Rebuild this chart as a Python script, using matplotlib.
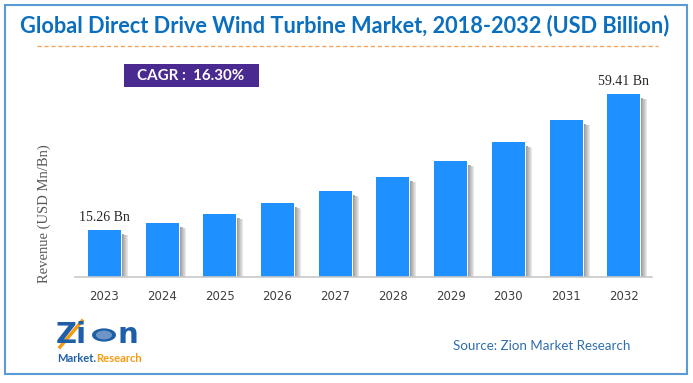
import matplotlib
matplotlib.use("Agg")
import matplotlib.pyplot as plt
from matplotlib.patches import Rectangle
from matplotlib.lines import Line2D

years = ["2023", "2024", "2025", "2026", "2027", "2028", "2029", "2030", "2031", "2032"]
revenue = [15.26, 17.6, 20.5, 24.0, 27.9, 32.5, 37.7, 43.8, 51.0, 59.41]
labeled = {0: "15.26 Bn", 9: "59.41 Bn"}
title = "Global Direct Drive Wind Turbine Market, 2018-2032 (USD Billion)"
cagr_text = "CAGR :  16.30%"
ylabel = "Revenue (USD Mn/Bn)"
source = "Source: Zion Market Research"

W, H = 693, 383
DPI = 100
fig = plt.figure(figsize=(W / DPI, H / DPI), dpi=DPI)
fig.patch.set_facecolor("white")

def fx(px):
    return px / W

def fy(py):
    return 1 - py / H

# Axes placement (pixel based)
ax_left, ax_right = 75, 652
base_y = 277
ymax = 70
px_per_unit = (277 - 94) / 59.41
top_px = base_y - ymax * px_per_unit
ax = fig.add_axes([fx(ax_left), fy(base_y), fx(ax_right - ax_left), (base_y - top_px) / H])
x = list(range(len(years)))
ax.set_xlim(-0.51, 9.49)
ax.set_ylim(0, ymax)

xunit_px = (ax_right - ax_left) / (9.49 + 0.51)
bar_w = 33 / xunit_px
# shadows
for k in range(6):
    off = (2 + k) / xunit_px
    dy = (4 + k * 0.3) / px_per_unit
    ax.bar([xi + bar_w / 2 + off - 0.5 / xunit_px for xi in x],
           [max(v - dy, 0) for v in revenue], width=1.0 / xunit_px,
           color="#5e5e5e", alpha=0.6 - k * 0.09, linewidth=0, zorder=1)
ax.bar(x, revenue, width=bar_w, color="#1E90FF", linewidth=0, zorder=2)

for i, lab in labeled.items():
    ax.annotate(lab, (x[i], revenue[i]), xytext=(0, 4), textcoords="offset points",
                ha="center", va="bottom", fontsize=10, family="Liberation Serif",
                color="#262626")

for sp in ["top", "right", "left"]:
    ax.spines[sp].set_visible(False)
ax.spines["bottom"].set_color("#c8c8c8")
ax.spines["bottom"].set_linewidth(1.2)
ax.set_yticks([])
ax.set_xticks(x)
ax.set_xticklabels(years, family="DejaVu Sans", fontsize=8.5, color="#404040")
ax.tick_params(axis="x", length=0, pad=9)
ax.set_facecolor("none")

fig.text(fx(44), fy(214), ylabel, rotation=90, ha="center", va="center",
         family="Liberation Serif", fontsize=10.5, color="#595959")

renderer = fig.canvas.get_renderer()

def fit(t, target_px):
    fs = t.get_fontsize()
    for _ in range(3):
        w = t.get_window_extent(renderer=renderer).width
        fs = fs * target_px / w
        t.set_fontsize(fs)

# Title
t = fig.text(fx(345), fy(26), title, ha="center", va="center", family="Lato",
             fontweight="bold", fontsize=15, color="#0B6FBF")
fit(t, 650)
fig.add_artist(Line2D([fx(37), fx(658)], [fy(46), fy(46)], transform=fig.transFigure,
                      color="#F4A460", linestyle=(0, (3, 2)), linewidth=1.0))

# CAGR box
fig.add_artist(Rectangle((fx(124), fy(87)), fx(259) - fx(124), fy(64) - fy(87),
                         transform=fig.transFigure, facecolor="#4A2A91", edgecolor="none"))
c = fig.text(fx(191), fy(75.5), cagr_text, ha="center", va="center", family="Lato",
             fontweight="bold", fontsize=12, color="white")
fit(c, 108)

# Source
s = fig.text(fx(542), fy(346), source, ha="center", va="center", family="Lato",
             fontsize=10, color="#2F6EAD")
fit(s, 178)

# Logo approximation
fig.text(fx(56), fy(335), "Zi", ha="left", va="center", family="DejaVu Sans",
         fontweight="bold", fontsize=21, color="#1F5FA8")
fig.add_artist(plt.Circle((fx(104), fy(335)), 12 / W, transform=fig.transFigure,
                          facecolor="#1F5FA8", edgecolor="none"))
fig.add_artist(plt.Circle((fx(104), fy(335)), 8 / W, transform=fig.transFigure,
                          facecolor="white", edgecolor="none", alpha=0.35))
fig.text(fx(117), fy(335), "n", ha="left", va="center", family="DejaVu Sans",
         fontweight="bold", fontsize=21, color="#1F5FA8")
fig.add_artist(Line2D([fx(60), fx(82)], [fy(347), fy(321)], transform=fig.transFigure,
                      color="#F39C12", linewidth=2.5))
m = fig.text(fx(57), fy(358), "Market.", ha="left", va="center", family="Lato",
             fontweight="bold", fontsize=8, color="#1F5FA8")
mw = m.get_window_extent(renderer=renderer).width
r = fig.text(fx(57 + mw + 0.5), fy(358), "Research", ha="left", va="center", family="Lato",
             fontweight="bold", fontsize=8, color="#F39C12")

# Border
fig.add_artist(Rectangle((fx(5), fy(374)), fx(687) - fx(5), fy(5) - fy(374),
                         transform=fig.transFigure, facecolor="none",
                         edgecolor="#5B9BD5", linewidth=1.5))

fig.savefig("out.png", dpi=DPI)
